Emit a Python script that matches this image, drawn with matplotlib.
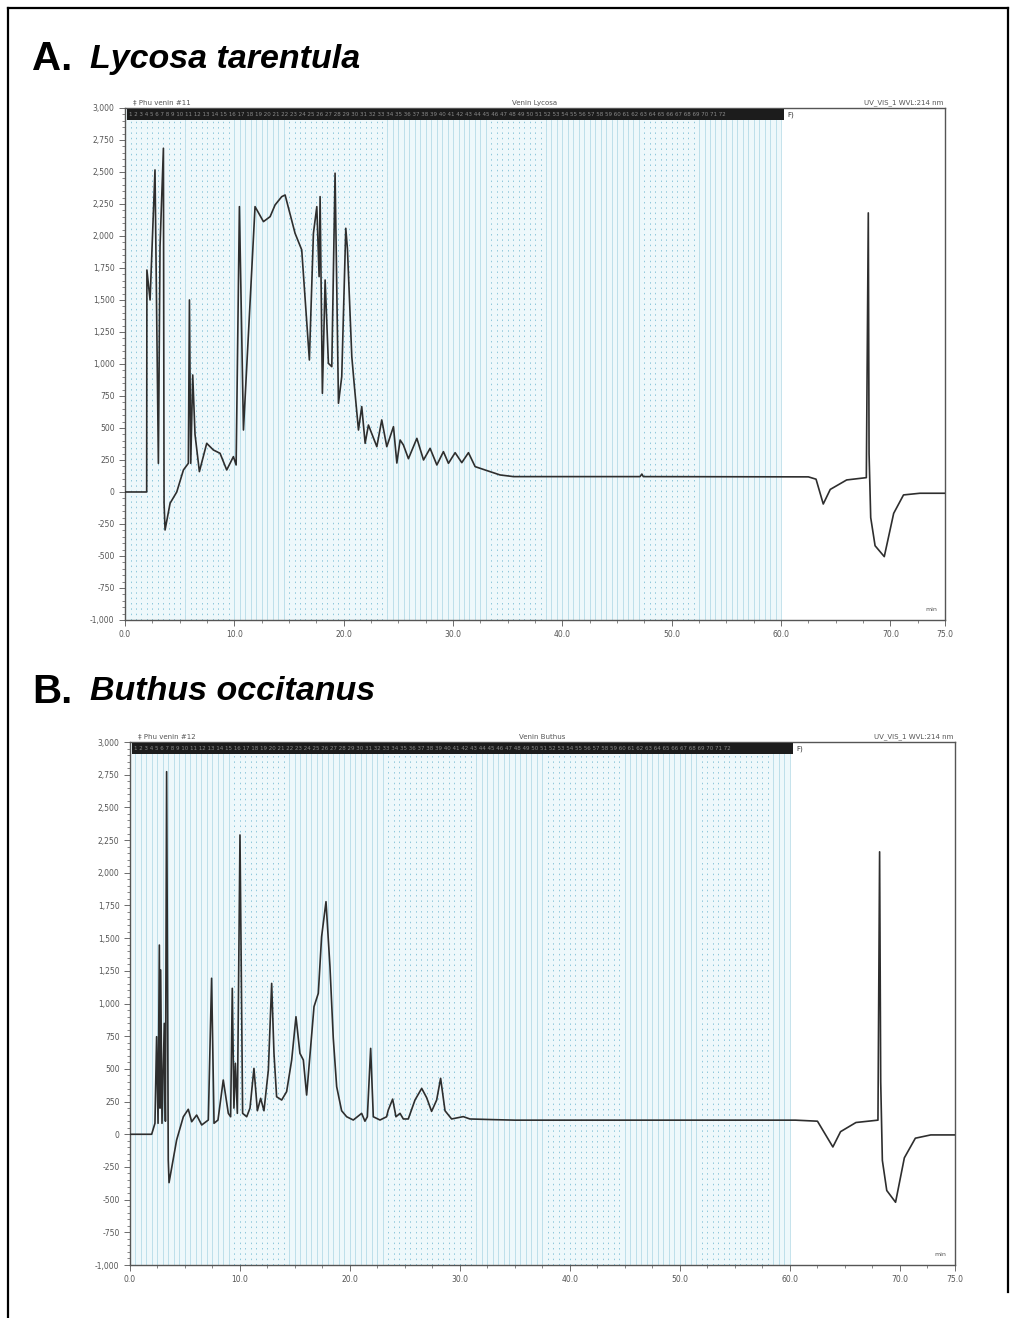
import numpy as np
import matplotlib
matplotlib.use("Agg")
import matplotlib.pyplot as plt
import matplotlib.patches as mpatches
from matplotlib.lines import Line2D
from matplotlib.ticker import MultipleLocator, FuncFormatter

# ── Data: chromatogram A (Lycosa tarentula), time in min, signal in mAU ──────
time_a = [0.0, 1.98, 2.0, 2.29, 2.74, 3.05, 3.20, 3.51, 3.57, 3.66, 4.12, 4.73,
          5.34, 5.79, 5.89, 6.01, 6.19, 6.40, 6.80, 7.47, 8.08, 8.69, 9.30,
          9.91, 10.16, 10.46, 10.83, 11.89, 12.66, 13.27, 13.72, 14.33, 14.64,
          15.55, 16.16, 16.86, 17.23, 17.54, 17.75, 17.84, 18.05, 18.30, 18.60,
          18.91, 19.21, 19.52, 19.82, 20.19, 20.34, 20.74, 20.98, 21.35, 21.65,
          21.96, 22.26, 23.03, 23.48, 23.94, 24.55, 24.86, 25.16, 25.46, 25.92,
          26.69, 27.30, 27.90, 28.52, 29.12, 29.58, 30.19, 30.80, 31.41, 32.02,
          33.10, 34.30, 35.53, 47.10, 47.27, 47.40, 62.50, 63.20, 63.86, 64.50,
          66.00, 67.80, 67.98, 68.05, 68.20, 68.60, 69.44, 70.30, 71.20, 72.70,
          75.0]
signal_a = [0, 0, 1734, 1500, 2516, 224, 1917, 2685, -88, -297, -88, 0,
            172, 224, 1500, 224, 914, 450, 159, 380, 328, 302, 172,
            276, 211, 2229, 484, 2229, 2112, 2151, 2242, 2307, 2320,
            2021, 1891, 1031, 2021, 2229, 1682, 2307, 771, 1656, 1005,
            979, 2490, 693, 901, 2060, 1900, 1057, 823, 484, 667,
            380, 523, 354, 563, 354, 510, 226, 406, 367, 260,
            419, 250, 341, 211, 315, 224, 307, 229, 307, 198,
            167, 133, 120, 120, 140, 120, 118, 100, -94, 20,
            94, 112, 2180, 300, -200, -420, -505, -167, -23, -10,
            -10]

# ── Data: chromatogram B (Buthus occitanus) ─────────────────────────────────
time_b = [0.0, 1.97, 2.27, 2.42, 2.55, 2.67, 2.73, 2.79, 2.91, 3.12, 3.22, 3.33,
          3.48, 3.55, 4.24, 4.85, 5.30, 5.61, 6.06, 6.52, 7.12, 7.42, 7.64,
          8.00, 8.48, 8.94, 9.15, 9.30, 9.45, 9.58, 9.76, 10.00, 10.24, 10.61,
          10.91, 11.27, 11.58, 11.88, 12.18, 12.58, 12.88, 13.09, 13.33, 13.79,
          14.24, 14.70, 15.09, 15.45, 15.76, 16.06, 16.73, 17.12, 17.42, 17.82,
          18.18, 18.48, 18.79, 19.24, 19.70, 20.30, 21.06, 21.36, 21.58, 21.88,
          22.12, 22.73, 23.33, 23.48, 23.88, 24.18, 24.55, 24.85, 25.30, 25.91,
          26.52, 26.97, 27.42, 27.88, 28.24, 28.64, 29.24, 30.30, 30.90, 33.00,
          35.00, 60.50, 62.50, 63.90, 64.60, 66.00, 68.00, 68.15, 68.25, 68.40,
          68.80, 69.60, 70.40, 71.40, 72.80, 75.0]
signal_b = [0, 0, 84, 746, 84, 1447, 200, 1256, 84, 848, 100, 2773,
            -197, -370, -44, 134, 191, 96, 147, 71, 109, 1193, 84,
            109, 415, 160, 134, 1116, 200, 543, 160, 2289, 160, 134,
            200, 504, 180, 275, 180, 491, 1154, 619, 287, 262,
            326, 568, 899, 619, 568, 300, 976, 1078, 1511, 1779,
            1282, 737, 364, 180, 134, 109, 160, 100, 134, 657,
            134, 109, 134, 185, 269, 134, 160, 117, 117, 262,
            351, 280, 175, 262, 428, 180, 117, 135, 117, 112,
            108, 108, 100, -97, 20, 90, 108, 2160, 400, -200,
            -430, -520, -180, -30, -5, -5]

# fraction-collector bands drawn with dashed markers (min)
bands_a = [(0.0, 5.0), (6.0, 9.5), (15.0, 23.5), (33.5, 38.0), (47.5, 52.0)]
bands_b = [(9.3, 14.0), (23.2, 31.0), (38.0, 44.5), (51.8, 58.2)]
strip_labels = " ".join(str(i) for i in range(1, 73))

LINE_C = "#2e2e2e"
FRAC_C = "#8cc6da"
TXT_C = "#555555"


def style_axes(ax):
    ax.set_xlim(0, 75)
    ax.set_ylim(-1000, 3000)
    ax.set_xticks([0, 10, 20, 30, 40, 50, 60, 70, 75])
    ax.xaxis.set_major_formatter(FuncFormatter(lambda v, p: f"{v:.1f}"))
    ax.xaxis.set_minor_locator(MultipleLocator(2.5))
    ax.yaxis.set_major_locator(MultipleLocator(250))
    ax.yaxis.set_minor_locator(MultipleLocator(50))
    ax.yaxis.set_major_formatter(FuncFormatter(lambda v, p: f"{v:,.0f}"))
    ax.tick_params(axis="both", which="major", labelsize=5.5, colors=TXT_C,
                   length=4, width=0.6)
    ax.tick_params(axis="both", which="minor", length=2, width=0.5, colors=TXT_C)
    for s in ax.spines.values():
        s.set_color("#555555")
        s.set_linewidth(1.0)


def draw_fractions(ax, bands):
    ax.axvspan(0, 60, color="#eef8fb", zorder=0, lw=0)
    for x in np.arange(0, 60.01, 0.5):
        dashed = any(a <= x <= b for a, b in bands)
        ax.axvline(x, color=FRAC_C, lw=0.7 if dashed else 0.5,
                   ls=(0, (1.5, 4)) if dashed else "-",
                   alpha=1.0 if dashed else 0.7, zorder=1)
    # overprinted fraction numbers form a dark strip at the top
    ax.add_patch(mpatches.Rectangle((0.2, 2905), 60.1, 85, facecolor="#1c1c1c",
                                    edgecolor="none", zorder=3))
    ax.text(0.4, 2947, strip_labels, fontsize=4.0, ha="left", va="center",
            color="#8a8a8a", zorder=4, family="DejaVu Sans Condensed")
    ax.text(60.6, 2947, "F)", fontsize=5, ha="left", va="center",
            color="#333333", zorder=4)


def header(ax, left, mid, right):
    ax.text(0.01, 1.004, "\u2021 " + left, transform=ax.transAxes, fontsize=5,
            color=TXT_C, va="bottom", ha="left")
    ax.text(0.5, 1.004, mid, transform=ax.transAxes, fontsize=5,
            color=TXT_C, va="bottom", ha="center")
    ax.text(0.998, 1.004, right, transform=ax.transAxes, fontsize=5,
            color=TXT_C, va="bottom", ha="right")
    ax.text(0.99, 0.015, "min", transform=ax.transAxes, fontsize=4.5,
            color=TXT_C, va="bottom", ha="right")


fig = plt.figure(figsize=(10.1, 13.18), dpi=100)

# page frame
for xs, ys in [([0.008, 0.008], [0.0, 0.994]), ([0.008, 0.998], [0.994, 0.994]),
               ([0.998, 0.998], [0.994, 0.02])]:
    fig.add_artist(Line2D(xs, ys, transform=fig.transFigure, color="black", lw=1.6))

# panel titles
fig.text(0.032, 0.955, "A.", fontsize=29, fontweight="bold", va="center",
         family="Liberation Sans")
fig.text(0.089, 0.955, "Lycosa tarentula", fontsize=24.5, fontweight="bold",
         style="italic", va="center", family="Liberation Sans")
fig.text(0.032, 0.475, "B.", fontsize=29, fontweight="bold", va="center",
         family="Liberation Sans")
fig.text(0.089, 0.475, "Buthus occitanus", fontsize=24.5, fontweight="bold",
         style="italic", va="center", family="Liberation Sans")

ax_a = fig.add_axes([0.1238, 0.5296, 0.8119, 0.3885])
draw_fractions(ax_a, bands_a)
ax_a.plot(time_a, signal_a, color=LINE_C, lw=1.2, zorder=5)
style_axes(ax_a)
header(ax_a, "Phu venin #11", "Venin Lycosa", "UV_VIS_1 WVL:214 nm")

ax_b = fig.add_axes([0.1287, 0.0402, 0.8168, 0.3968])
draw_fractions(ax_b, bands_b)
ax_b.plot(time_b, signal_b, color=LINE_C, lw=1.2, zorder=5)
style_axes(ax_b)
header(ax_b, "Phu venin #12", "Venin Buthus", "UV_VIS_1 WVL:214 nm")

fig.savefig("out.png", dpi=100)
